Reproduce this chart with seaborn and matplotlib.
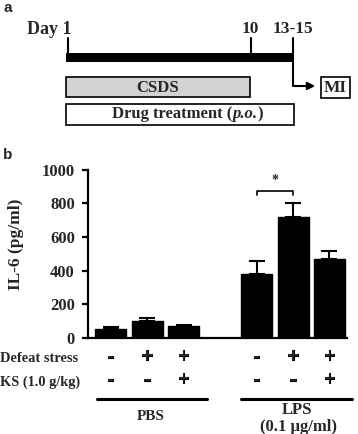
import numpy as np
import pandas as pd
import matplotlib
matplotlib.use("Agg")
import matplotlib.pyplot as plt
from matplotlib.patches import Rectangle, FancyArrowPatch
import matplotlib.patheffects as pe
import seaborn as sns

# ---------------- data ----------------
groups = ["PBS", "PBS", "PBS", "LPS", "LPS", "LPS"]
defeat_stress = ["-", "+", "+", "-", "+", "+"]
ks_treatment = ["-", "-", "+", "-", "-", "+"]
il6_mean = [52, 103, 71, 382, 720, 467]
il6_sem = [15, 17, 6, 75, 83, 51]
y_ticks = [0, 200, 400, 600, 800, 1000]

sns.set_theme(style="white")
plt.rcParams["font.family"] = ["Liberation Serif", "DejaVu Serif"]
plt.rcParams["font.weight"] = "bold"

W, H = 358, 434
fig = plt.figure(figsize=(W / 100, H / 100), dpi=100)
fig.patch.set_facecolor("white")

def fx(x):
    return x / W

def fy(y):
    return 1 - y / H

# ---------------- panel b ----------------
ax_left, ax_right, ax_top, ax_bot = 88, 347, 169.5, 338
ax = fig.add_axes([fx(ax_left), fy(ax_bot), fx(ax_right - ax_left), (ax_bot - ax_top) / H])

group_index = {"PBS": 0, "LPS": 1}
xpos = []
counter = {"PBS": 0, "LPS": 0}
for g in groups:
    xpos.append(group_index[g] * 4 + counter[g])
    counter[g] += 1

df = pd.DataFrame({"x": xpos, "il6": il6_mean, "group": groups})
sns.barplot(data=df, x="x", y="il6", native_scale=True, color="black",
            width=0.85, errorbar=None, ax=ax, saturation=1, edgecolor="black")
ax.errorbar(xpos, il6_mean, yerr=[np.zeros(len(il6_sem)), il6_sem], fmt="none",
            ecolor="black", elinewidth=1.5, capsize=5.5, capthick=1.5)

ax.set_xlim(-0.62, 6.48)
ax.set_ylim(0, 1000)
ax.set_yticks(y_ticks)
ax.set_yticklabels([str(t) for t in y_ticks], fontsize=12, fontweight="bold")
ax.set_xticks([])
ax.set_xlabel("")
ax.set_ylabel("")
for s in ["top", "right"]:
    ax.spines[s].set_visible(False)
for s in ["left", "bottom"]:
    ax.spines[s].set_color("black")
    ax.spines[s].set_linewidth(1.6)
ax.tick_params(axis="y", direction="out", length=4.5, width=1.6, color="black", pad=5, left=True)
ax.set_facecolor("none")

# significance bracket
ax.plot([4, 4, 5, 5], [849, 873, 873, 849], color="black", lw=1.2, clip_on=False)
ax.text(4.5, 935, "*", ha="center", va="center", fontsize=10, fontweight="bold")

# ---------------- overlay for annotations (pixel coords) ----------------
ov = fig.add_axes([0, 0, 1, 1])
ov.set_xlim(0, W)
ov.set_ylim(H, 0)
ov.axis("off")
ov.patch.set_visible(False)

# y label
ov.text(16, 244, "IL-6 (pg/ml)", rotation=90, ha="center", va="center",
        fontsize=12.5, fontweight="bold")

# condition rows
ov.text(0, 358, "Defeat stress", ha="left", va="center", fontsize=10.4, fontweight="bold")
ov.text(0, 382, "KS (1.0 g/kg)", ha="left", va="center", fontsize=10.4, fontweight="bold")
to_px = lambda xd: ax_left + (xd + 0.62) * (ax_right - ax_left) / 7.1
thick = [pe.withStroke(linewidth=0.8, foreground="black")]
for xd, d, k in zip(xpos, defeat_stress, ks_treatment):
    ov.text(to_px(xd), 357, d, ha="center", va="center", fontsize=15, fontweight="bold",
            path_effects=thick)
    ov.text(to_px(xd), 380, k, ha="center", va="center", fontsize=15, fontweight="bold",
            path_effects=thick)

ov.plot([97, 207], [399, 399], color="black", lw=2.2)
ov.plot([241, 352], [399, 399], color="black", lw=2.2)
ov.text(151, 417, "PBS", ha="center", va="center", fontsize=11, fontweight="bold")
ov.text(297, 410, "LPS", ha="center", va="center", fontsize=12, fontweight="bold")
ov.text(298, 427, "(0.1 \u00b5g/ml)", ha="center", va="center", fontsize=12, fontweight="bold")

# panel letters
ov.text(3, 8, "a", ha="left", va="center", fontsize=11, fontweight="bold",
        family=["Liberation Sans", "DejaVu Sans"])
ov.text(3, 155, "b", ha="left", va="center", fontsize=11, fontweight="bold",
        family=["Liberation Sans", "DejaVu Sans"])

# ---------------- panel a (timeline) ----------------
ov.text(27, 29, "Day 1", ha="left", va="center", fontsize=13, fontweight="bold")
ov.text(250, 29, "10", ha="center", va="center", fontsize=12.5, fontweight="bold")
ov.text(293, 29, "13-15", ha="center", va="center", fontsize=12.5, fontweight="bold")

ov.add_patch(Rectangle((66, 53), 293 - 66, 8.5, facecolor="black", edgecolor="none"))
ov.plot([67.5, 67.5], [38, 55], color="black", lw=1.5)
ov.plot([250.5, 250.5], [38, 55], color="black", lw=1.5)
ov.plot([293, 293, 310], [38, 86, 86], color="black", lw=1.5)
ov.add_patch(FancyArrowPatch((305, 86), (318, 86), arrowstyle="-|>", mutation_scale=11,
                             color="black", lw=1.5))

ov.add_patch(Rectangle((320.5, 77), 29, 21, facecolor="white", edgecolor="black", lw=1.2))
ov.text(335, 88, "MI", ha="center", va="center", fontsize=12.5, fontweight="bold")

ov.add_patch(Rectangle((66, 77), 184, 20, facecolor="#d3d3d3", edgecolor="black", lw=1.2))
ov.text(158, 87.5, "CSDS", ha="center", va="center", fontsize=12, fontweight="bold")

ov.add_patch(Rectangle((66, 104), 227.5, 20.5, facecolor="white", edgecolor="black", lw=1.2))
# "Drug treatment (p.o.)" with italic p.o.
fs = 12
t1 = ov.text(112, 114.5, "Drug treatment (", ha="left", va="center", fontsize=fs, fontweight="bold")
fig.canvas.draw()
r = fig.canvas.get_renderer()
inv = ov.transData.inverted()
bb1 = t1.get_window_extent(r)
x2 = inv.transform((bb1.x1, bb1.y0))[0]
t2 = ov.text(x2, 114.5, "p.o.", ha="left", va="center", fontsize=fs, fontweight="bold",
             style="italic")
bb2 = t2.get_window_extent(r)
x3 = inv.transform((bb2.x1, bb2.y0))[0]
ov.text(x3, 114.5, ")", ha="left", va="center", fontsize=fs, fontweight="bold")

fig.savefig("out.png", dpi=100, facecolor="white")
